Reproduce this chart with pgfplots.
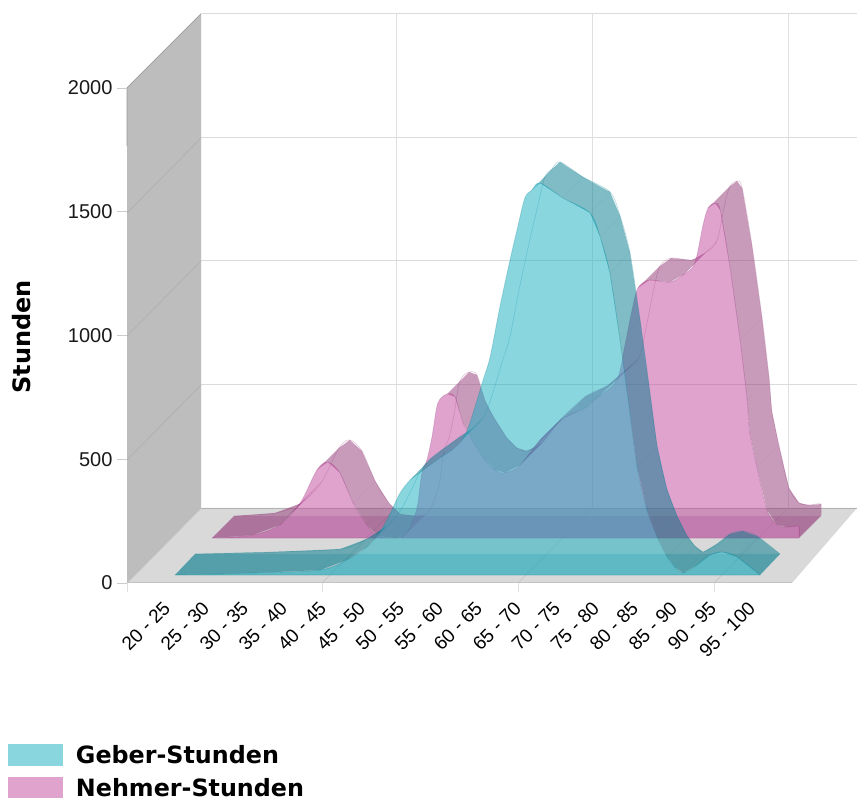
\documentclass[border=0pt]{standalone}
\usepackage{fontspec}
\setmainfont{Liberation Sans}
\newfontfamily\verd{DejaVu Sans}
\usepackage{pgfplots}
\usepackage{pgfplotstable}
\pgfplotsset{compat=1.18}
\definecolor{teal1}{RGB}{21,175,193}
\definecolor{teal2}{RGB}{0,123,141}
\definecolor{pink1}{RGB}{193,73,159}
\definecolor{pink2}{RGB}{147,57,121}
\pgfplotstableread{
c v
0 0
2 8
3.72 20
4.41 61
4.92 113
5.26 174
5.56 263
5.77 331
6.03 384
6.36 424
6.79 473
7.10 505
7.36 545
7.56 614
7.90 788
8.08 881
8.33 1083
8.59 1273
8.77 1394
8.97 1523
9.15 1555
9.36 1584
9.95 1523
10.64 1463
10.90 1366
11.15 1220
11.41 949
11.62 707
11.85 436
12.10 263
12.36 154
12.62 73
12.82 32
13.03 8
13.38 40
13.72 81
14.03 93
14.41 73
15 0
}\geber
\pgfplotstableread{
c v
0 0
1.05 12
1.74 53
2.26 141
2.69 275
2.97 307
3.28 263
3.62 141
3.97 53
4.26 8
4.69 0
4.90 4
5.08 44
5.26 125
5.38 263
5.51 315
5.64 408
5.79 545
6.03 582
6.23 570
6.44 465
6.67 396
7.0 315
7.26 275
7.51 263
7.90 295
8.41 396
9.03 485
9.56 525
9.87 566
10.38 638
10.59 780
10.77 921
10.92 1010
11.21 1042
11.74 1034
12.08 1063
12.38 1111
12.59 1265
12.72 1333
12.9 1353
13.03 1325
13.28 1095
13.54 800
13.72 558
13.79 424
13.97 287
14.23 113
14.49 53
14.74 44
15.05 48
15.05 0
}\nehmer
% one transparent quad per table row pair, between the front and back plane
% #1 table, #2 first row, #3 last row of first corner, #4 colour, #5 fx, #6 fy, #7 bx, #8 by
\newcommand{\ribbon}[8]{%
  \pgfplotsforeachungrouped \i in {#2,...,#3}{%
    \pgfmathtruncatemacro\j{\i+1}%
    \pgfplotstablegetelem{\i}{c}\of{#1}\let\ca\pgfplotsretval
    \pgfplotstablegetelem{\i}{v}\of{#1}\let\va\pgfplotsretval
    \pgfplotstablegetelem{\j}{c}\of{#1}\let\cb\pgfplotsretval
    \pgfplotstablegetelem{\j}{v}\of{#1}\let\vvb\pgfplotsretval
    \pgfmathsetmacro\xa{\ca+#5}\pgfmathsetmacro\ya{\va+#6}%
    \pgfmathsetmacro\xb{\cb+#5}\pgfmathsetmacro\yb{\vvb+#6}%
    \pgfmathsetmacro\xc{\cb+#7}\pgfmathsetmacro\yc{\vvb+#8}%
    \pgfmathsetmacro\xd{\ca+#7}\pgfmathsetmacro\yd{\va+#8}%
    \edef\cmd{\noexpand\addplot[fill=#4,fill opacity=0.5,draw=none,forget plot] coordinates {(\xa,\ya) (\xb,\yb) (\xc,\yc) (\xd,\yd)} -- cycle;}%
    \cmd
  }%
}
\begin{document}
\begin{tikzpicture}[x=1pt,y=1pt]
\path[use as bounding box] (0,0) rectangle (857,798);
\begin{scope}[x=1pt,y=-1pt,shift={(0pt,798pt)}]
  \fill[white] (0,0) rectangle (857,798);
  \fill[black!26] (127,88) -- (201,14) -- (201,508) -- (127,583) -- cycle;
  \draw[black!40,line width=0.7pt] (127,146) -- (127,88) -- (201,14);
  \fill[black!15] (127,583) -- (201,508) -- (857,508) -- (792,583) -- cycle;
  \foreach \y in {14,138,261,385}
    \draw[black!14,line width=1pt] (201,\y) -- (857,\y);
  \draw[black!30,line width=0.8pt] (201,508) -- (857,508);
  \foreach \x in {396,592,788}
    \draw[black!12,line width=1pt] (\x,14) -- (\x,508);
  \foreach \y in {508,385,261,138}
    \draw[black!31,line width=0.7pt] (127,\y+75) -- (201,\y);
  \foreach \x in {127,322,518,714}
    \draw[black!22,line width=0.7pt] (\x,583) -- (\x+74,508);
  \foreach \x in {127,322,518,714}
    \draw[black!12,line width=1pt] (\x,583) -- (\x,592);
  \draw[black!24,line width=1pt] (127,583) -- (792,583);
\end{scope}
\begin{axis}[
  at={(127pt,215pt)},anchor=south west,
  scale only axis,width=665pt,height=495pt,
  clip=false,
  xmin=-1.2308,xmax=15.8205,ymin=0,ymax=2000,
  axis line style={draw=none},
  xtick={0,...,15},
  xticklabels={20 - 25,25 - 30,30 - 35,35 - 40,40 - 45,45 - 50,50 - 55,55 - 60,60 - 65,65 - 70,70 - 75,75 - 80,80 - 85,85 - 90,90 - 95,95 - 100},
  xtick style={draw=none},
  ytick={0,500,1000,1500,2000},
  y tick style={black!20,line width=0.8pt},
  tick pos=left,
  major tick length=10pt,
  tick align=outside,
  /pgf/number format/assume math mode=true,
  /pgf/number format/1000 sep={},
  y tick label style={font=\fontsize{20}{24}\selectfont,text=black!90,xshift=-1pt},
  x tick label style={font=\fontsize{19}{23}\selectfont,xshift=-13pt,yshift=-7pt,rotate=45,anchor=north east,inner sep=0pt},
  ylabel={\verd\bfseries Stunden},
  every axis y label/.style={at={(axis description cs:-0.158,0.497)},rotate=90,anchor=center,font=\fontsize{24}{28}\selectfont},
  legend style={at={(axis description cs:-0.179,-0.324)},anchor=north west,draw=none,fill=none,inner sep=0pt,outer sep=0pt,
    row sep=9.5pt,cells={anchor=west},font=\fontsize{23.8}{24}\selectfont\verd\bfseries,
    /tikz/every odd column/.style={column sep=11pt}},
  legend image code/.code={\fill[draw=none,#1] (0pt,-11pt) rectangle (55pt,11pt);},
]
\addlegendimage{fill=teal1,fill opacity=0.5,draw=none}
\addlegendentry{Geber-Stunden}
\addlegendimage{fill=pink1,fill opacity=0.5,draw=none}
\addlegendentry{Nehmer-Stunden}

% ---- Nehmer
\addplot[fill=pink2,fill opacity=0.25,draw=none,forget plot] coordinates {(0.949,181.8) (15.999,181.8) (16.563,270.7) (1.513,270.7)} -- cycle;
\ribbon{\nehmer}{0}{2}{pink2}{0.949}{181.8}{1.513}{270.7}
\ribbon{\nehmer}{4}{10}{pink2}{0.949}{181.8}{1.513}{270.7}
\ribbon{\nehmer}{18}{29}{pink2}{0.949}{181.8}{1.513}{270.7}
\ribbon{\nehmer}{33}{36}{pink2}{0.949}{181.8}{1.513}{270.7}
\ribbon{\nehmer}{39}{50}{pink2}{0.949}{181.8}{1.513}{270.7}
\addplot[smooth,tension=0.5,draw=pink2,draw opacity=0.25,line width=0.7pt,forget plot] table[x expr=\thisrow{c}+1.513,y expr=\thisrow{v}+270.7]{\nehmer};
\addplot[smooth,tension=0.5,fill=pink1,fill opacity=0.5,draw=pink2,draw opacity=0.25,line width=0.7pt,forget plot] table[x expr=\thisrow{c}+0.949,y expr=\thisrow{v}+181.8]{\nehmer} -- cycle;

% ---- Geber
\addplot[fill=teal2,fill opacity=0.22,draw=none,forget plot] coordinates {(0,32.3) (15,32.3) (15.513,117.2) (0.513,117.2)} -- cycle;
\ribbon{\geber}{0}{3}{teal2}{0}{32.3}{0.513}{117.2}
\ribbon{\geber}{8}{11}{teal2}{0}{32.3}{0.513}{117.2}
\ribbon{\geber}{20}{37}{teal2}{0}{32.3}{0.513}{117.2}
\addplot[smooth,tension=0.5,draw=teal2,draw opacity=0.25,line width=0.7pt,forget plot] table[x expr=\thisrow{c}+0.513,y expr=\thisrow{v}+117.2]{\geber};
\addplot[smooth,tension=0.5,fill=teal1,fill opacity=0.5,draw=teal2,draw opacity=0.25,line width=0.7pt,forget plot] table[x expr=\thisrow{c},y expr=\thisrow{v}+32.3]{\geber} -- cycle;
\end{axis}
\end{tikzpicture}
\end{document}
